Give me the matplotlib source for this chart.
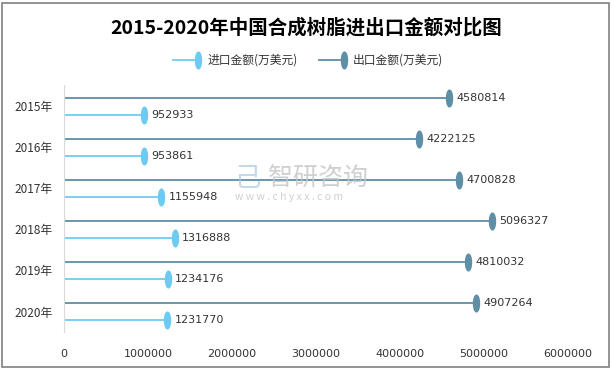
import matplotlib.pyplot as plt
import numpy as np
from matplotlib.markers import MarkerStyle
from matplotlib.path import Path
from matplotlib.patches import Rectangle
from matplotlib.transforms import Affine2D

plt.rcParams['font.family'] = ['Noto Sans CJK SC', 'DejaVu Sans']

years = ['2015年', '2016年', '2017年', '2018年', '2019年', '2020年']
imports = [952933, 953861, 1155948, 1316888, 1234176, 1231770]
exports = [4580814, 4222125, 4700828, 5096327, 4810032, 4907264]
xticks = [0, 1000000, 2000000, 3000000, 4000000, 5000000, 6000000]

c_imp = '#6dcbf2'
c_exp = '#5d8fa6'
c_txt = '#333333'

# tall ellipse marker
ell = Path.unit_circle().transformed(Affine2D().scale(0.36, 1.0))
mk = MarkerStyle(ell)

fig = plt.figure(figsize=(6.13, 3.71), dpi=100)
ax = fig.add_axes([0.1044, 0.105, 0.822, 0.666])

pos = np.arange(len(years))
off = 0.2
num_font = dict(fontsize=8, color=c_txt, family='DejaVu Sans', va='center', ha='left')
for i in range(len(years)):
    ax.plot([0, exports[i]], [pos[i] - off] * 2, color=c_exp, lw=1.3, zorder=2)
    ax.plot([exports[i]], [pos[i] - off], marker=mk, ms=12, color=c_exp, zorder=3)
    ax.text(exports[i] + 90000, pos[i] - off, str(exports[i]), **num_font)
    ax.plot([0, imports[i]], [pos[i] + off] * 2, color=c_imp, lw=1.3, zorder=2)
    ax.plot([imports[i]], [pos[i] + off], marker=mk, ms=12, color=c_imp, zorder=3)
    ax.text(imports[i] + 90000, pos[i] + off, str(imports[i]), **num_font)

ax.set_xlim(0, 6000000)
ax.set_ylim(5.5, -0.52)
ax.set_yticks(pos)
ax.set_yticklabels(years, fontsize=8.5, color=c_txt)
ax.set_xticks(xticks)
ax.set_xticklabels([str(v) for v in xticks], fontsize=8, color=c_txt, family='DejaVu Sans')
ax.tick_params(length=0, pad=12, axis='x')
ax.tick_params(length=0, pad=8, axis='y')
for s in ['top', 'right', 'bottom']:
    ax.spines[s].set_visible(False)
ax.spines['left'].set_color('#d9d9d9')

# legend
ly = 0.838
for lx, col, lab in [(0.282, c_imp, '进口金额(万美元)'), (0.52, c_exp, '出口金额(万美元)')]:
    fig.add_artist(plt.Line2D([lx, lx + 0.041], [ly, ly], color=col, lw=1.3,
                              transform=fig.transFigure))
    fig.add_artist(plt.Line2D([lx + 0.041], [ly], marker=mk, ms=12, color=col,
                              transform=fig.transFigure))
    fig.text(lx + 0.056, ly, lab, fontsize=8.5, va='center', color=c_txt)

fig.text(0.5, 0.925, '2015-2020年中国合成树脂进出口金额对比图', ha='center', va='center',
         fontsize=14, fontweight='bold', color='black')

# watermark
fig.text(0.437, 0.52, '智研咨询', fontsize=18, color='#c4c4c4', alpha=0.8, va='center', ha='left')
fig.text(0.383, 0.468, 'w w w . c h y x x . c o m', fontsize=7.5, color='#c4c4c4', alpha=0.8,
         va='center', ha='left')
fig.text(0.383, 0.52, '己', fontsize=19, color='#a9c8e0', alpha=0.7, va='center', ha='left')

fig.add_artist(Rectangle((0.004, 0.012), 0.989, 0.98, transform=fig.transFigure,
                         fill=False, edgecolor='#808080', lw=1.2))

fig.savefig('out.png', dpi=100)
